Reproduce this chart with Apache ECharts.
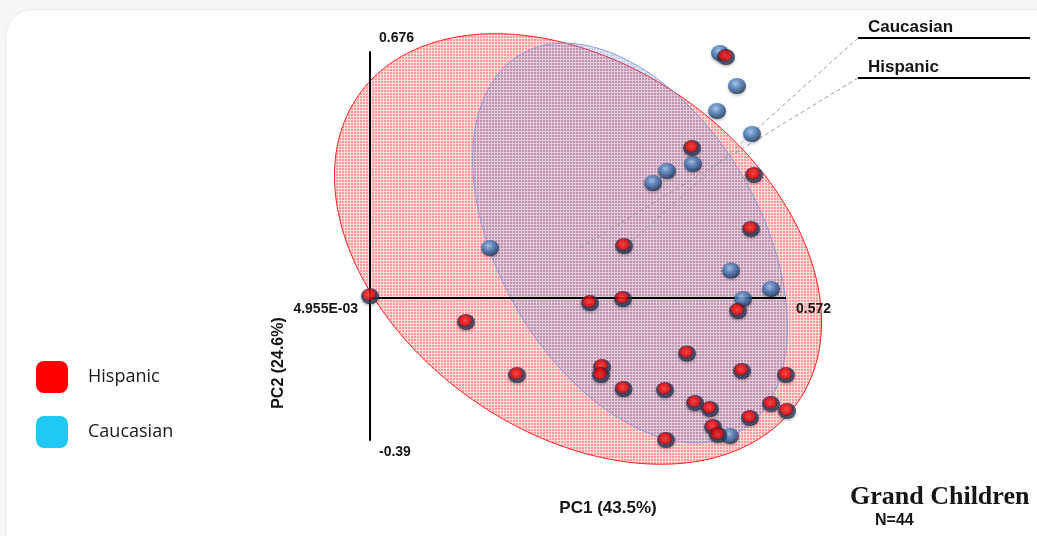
<!DOCTYPE html>
<html>
<head>
<meta charset="utf-8">
<script src="https://cdn.jsdelivr.net/npm/echarts@6/dist/echarts.min.js"></script>
<style>
  html, body { margin: 0; padding: 0; width: 1037px; height: 536px; overflow: hidden; background: #f6f6f6; }
  #frame { position: absolute; left: 5px; top: 9px; width: 1060px; height: 560px; background: #fff;
           border: 1px solid #e8e8e8; border-radius: 28px; }
  #chart { position: absolute; left: 0; top: 0; width: 1037px; height: 536px; }
</style>
</head>
<body>
<div id="frame"></div>
<div id="chart"></div>
<script>
// PCA score plot: PC1 vs PC2, two groups with their confidence ellipses
const groups = ['Hispanic', 'Caucasian'];
const legendColors = ['#ff0000', '#22c8f4'];

const pc1Range = [0.004955, 0.572];
const pc2Range = [-0.39, 0.676];
const pc2Origin = 0.004955;
const pc1TickLabels = ['4.955E-03', '0.572'];
const pc2TickLabels = ['0.676', '-0.39'];
const pc1Name = 'PC1 (43.5%)';
const pc2Name = 'PC2 (24.6%)';

// sample scores [PC1, PC2]
const hispanic = [
  [0.4902, 0.6623], [0.4439, 0.4122], [0.5284, 0.3381], [0.5243, 0.1897],
  [0.3512, 0.1430], [0.0050, 0.0050], [0.3048, -0.0136], [0.3498, -0.0026],
  [0.5066, -0.0356], [0.1358, -0.0658], [0.4371, -0.1524], [0.2053, -0.2114],
  [0.3212, -0.1894], [0.3198, -0.2114], [0.3505, -0.2499], [0.4071, -0.2526],
  [0.5120, -0.2004], [0.5720, -0.2114], [0.4480, -0.2883], [0.4684, -0.3048],
  [0.5516, -0.2911], [0.5734, -0.3103], [0.5229, -0.3296], [0.4084, -0.3900],
  [0.4725, -0.3543], [0.4793, -0.3763]
];
const caucasian = [
  [0.4820, 0.6733], [0.5052, 0.5826], [0.4780, 0.5139], [0.5257, 0.4507],
  [0.4452, 0.3683], [0.4098, 0.3491], [0.3907, 0.3161], [0.1685, 0.1375],
  [0.4970, 0.0757], [0.5516, 0.0249], [0.5134, -0.0026], [0.4957, -0.3791]
];

// confidence ellipses: centre and two conjugate semi-axis vectors (PC units)
const hispanicCenter = [0.2885, 0.1348];
const hispanicAxisA = [0.2992, -0.4223];
const hispanicAxisB = [-0.1438, -0.4141];
const caucasianCenter = [0.3594, 0.1512];
const caucasianAxisA = [0.1486, -0.5187];
const caucasianAxisB = [-0.1546, -0.1800];

// fine checked fill
function gridTile(cell, line) {
  const c = document.createElement('canvas');
  c.width = 3; c.height = 3;
  const g = c.getContext('2d');
  g.fillStyle = line; g.fillRect(0, 0, 3, 3);
  g.clearRect(0, 0, 2, 2);
  g.fillStyle = cell; g.fillRect(0, 0, 2, 2);
  return { image: c, repeat: 'repeat' };
}

function ellipseSeries(name, center, a, b, fill, stroke, z) {
  return {
    name: name, type: 'custom', coordinateSystem: 'cartesian2d', clip: false, silent: true, z: z,
    data: [center],
    renderItem: function (params, api) {
      const pts = [];
      for (let i = 0; i < 240; i++) {
        const t = i / 240 * Math.PI * 2;
        const c = Math.cos(t), s = Math.sin(t);
        pts.push(api.coord([center[0] + c * a[0] + s * b[0], center[1] + c * a[1] + s * b[1]]));
      }
      return { type: 'polygon', shape: { points: pts }, style: { fill: fill, stroke: stroke, lineWidth: 1 } };
    }
  };
}

const redSphere = {
  type: 'radial', x: 0.45, y: 0.4, r: 0.6,
  colorStops: [
    { offset: 0, color: '#ff3a3a' }, { offset: 0.47, color: '#f20000' },
    { offset: 0.63, color: '#3e2040' }, { offset: 0.82, color: '#284464' },
    { offset: 1, color: '#17263a' }
  ]
};
const blueSphere = {
  type: 'radial', x: 0.42, y: 0.36, r: 0.66,
  colorStops: [
    { offset: 0, color: '#a9cbef' }, { offset: 0.3, color: '#6395d0' },
    { offset: 0.64, color: '#35649e' }, { offset: 0.88, color: '#23426b' },
    { offset: 1, color: '#16253a' }
  ]
};

const chart = echarts.init(document.getElementById('chart'), null, { renderer: 'canvas' });

const option = {
  animation: false,
  backgroundColor: 'transparent',
  grid: { left: 370, top: 52, width: 416, height: 388 },
  xAxis: {
    type: 'value', min: pc1Range[0], max: pc1Range[1],
    axisLine: { show: false }, axisTick: { show: false }, axisLabel: { show: false }, splitLine: { show: false }
  },
  yAxis: {
    type: 'value', min: pc2Range[0], max: pc2Range[1], z: 4,
    axisLine: { show: true, onZero: false, lineStyle: { color: '#000', width: 2 } },
    axisTick: { show: false }, axisLabel: { show: false }, splitLine: { show: false }
  },
  legend: {
    orient: 'vertical', left: 36, top: 361, itemWidth: 32, itemHeight: 32, itemGap: 23,
    icon: 'roundRect', selectedMode: false, padding: 0,
    textStyle: { fontFamily: 'Open Sans', fontSize: 18, color: '#1a1a1a', padding: [0, 0, 0, 15] },
    data: groups.map((g, i) => ({ name: g, icon: 'roundRect', itemStyle: { color: legendColors[i], borderWidth: 0 } }))
  },
  series: [
    ellipseSeries(groups[0], hispanicCenter, hispanicAxisA, hispanicAxisB,
      gridTile('rgba(255,55,55,0.52)', 'rgba(255,60,60,0.17)'), '#ff1a1a', 2),
    Object.assign(ellipseSeries(groups[1], caucasianCenter, caucasianAxisA, caucasianAxisB,
      gridTile('rgba(95,125,205,0.38)', 'rgba(120,150,215,0.22)'), 'rgba(130,150,215,0.9)', 3), {
      markLine: {
        silent: true, symbol: 'none', z: 4, label: { show: false },
        lineStyle: { color: '#000', width: 2, type: 'solid' },
        data: [{ yAxis: pc2Origin }]
      }
    }),
    {
      name: groups[1], type: 'scatter', data: caucasian, symbol: 'circle', symbolSize: [18, 16],
      clip: false, z: 6, silent: true,
      itemStyle: { color: blueSphere, shadowBlur: 3, shadowColor: 'rgba(0,0,0,0.35)', shadowOffsetY: 1.5 }
    },
    {
      name: groups[0], type: 'scatter', data: hispanic, symbol: 'circle', symbolSize: [18, 16],
      clip: false, z: 7, silent: true,
      itemStyle: { color: redSphere, shadowBlur: 3, shadowColor: 'rgba(0,0,0,0.35)', shadowOffsetY: 1.5 }
    }
  ]
};
chart.setOption(option);

// annotations placed from the axis geometry
const px = (x, y) => chart.convertToPixel({ gridIndex: 0 }, [x, y]);
const topLeft = px(pc1Range[0], pc2Range[1]);
const bottomLeft = px(pc1Range[0], pc2Range[0]);
const originPt = px(pc1Range[0], pc2Origin);
const rightPt = px(pc1Range[1], pc2Origin);
const hispC = px(hispanicCenter[0], hispanicCenter[1]);
const caucC = px(caucasianCenter[0], caucasianCenter[1]);

const bold = (size, family) => ({ fontSize: size, fontWeight: 'bold', fontFamily: family || '"Liberation Sans", Arial, sans-serif', fill: '#151515' });

const graphic = [
  { type: 'text', x: topLeft[0] + 9, y: topLeft[1] - 14, z: 10,
    style: Object.assign({ text: pc2TickLabels[0], align: 'left', verticalAlign: 'middle' }, bold(14)) },
  { type: 'text', x: bottomLeft[0] + 9, y: bottomLeft[1] + 12, z: 10,
    style: Object.assign({ text: pc2TickLabels[1], align: 'left', verticalAlign: 'middle' }, bold(14)) },
  { type: 'text', x: originPt[0] - 12, y: originPt[1] + 13, z: 10,
    style: Object.assign({ text: pc1TickLabels[0], align: 'right', verticalAlign: 'middle' }, bold(14)) },
  { type: 'text', x: rightPt[0] + 10, y: rightPt[1] + 13, z: 10,
    style: Object.assign({ text: pc1TickLabels[1], align: 'left', verticalAlign: 'middle' }, bold(14)) },
  { type: 'text', x: 608, y: 508, z: 10,
    style: Object.assign({ text: pc1Name, align: 'center', verticalAlign: 'middle' }, bold(17)) },
  { type: 'text', x: 279, y: 363, rotation: Math.PI / 2, z: 10,
    style: Object.assign({ text: pc2Name, align: 'center', verticalAlign: 'middle' }, bold(16)) },
  // group labels with leader lines to the ellipse centres
  { type: 'line', z: 5, shape: { x1: 858, y1: 38, x2: caucC[0], y2: caucC[1] },
    style: { stroke: '#9a9a9a', lineWidth: 1, lineDash: [4, 3] } },
  { type: 'line', z: 5, shape: { x1: 858, y1: 78, x2: hispC[0], y2: hispC[1] },
    style: { stroke: '#9a9a9a', lineWidth: 1, lineDash: [4, 3] } },
  { type: 'line', z: 10, shape: { x1: 858, y1: 38, x2: 1030, y2: 38 }, style: { stroke: '#000', lineWidth: 2 } },
  { type: 'line', z: 10, shape: { x1: 858, y1: 78, x2: 1030, y2: 78 }, style: { stroke: '#000', lineWidth: 2 } },
  { type: 'text', x: 868, y: 27, z: 10,
    style: Object.assign({ text: groups[1], align: 'left', verticalAlign: 'middle' }, bold(17)) },
  { type: 'text', x: 868, y: 67, z: 10,
    style: Object.assign({ text: groups[0], align: 'left', verticalAlign: 'middle' }, bold(17)) },
  // title block
  { type: 'text', x: 850, y: 497, z: 10,
    style: Object.assign({ text: 'Grand Children', align: 'left', verticalAlign: 'middle' },
      bold(26, '"Liberation Serif", "Times New Roman", serif')) },
  { type: 'text', x: 875, y: 521, z: 10,
    style: Object.assign({ text: 'N=44', align: 'left', verticalAlign: 'middle' }, bold(16)) }
];
chart.setOption({ graphic: graphic });
</script>
</body>
</html>
